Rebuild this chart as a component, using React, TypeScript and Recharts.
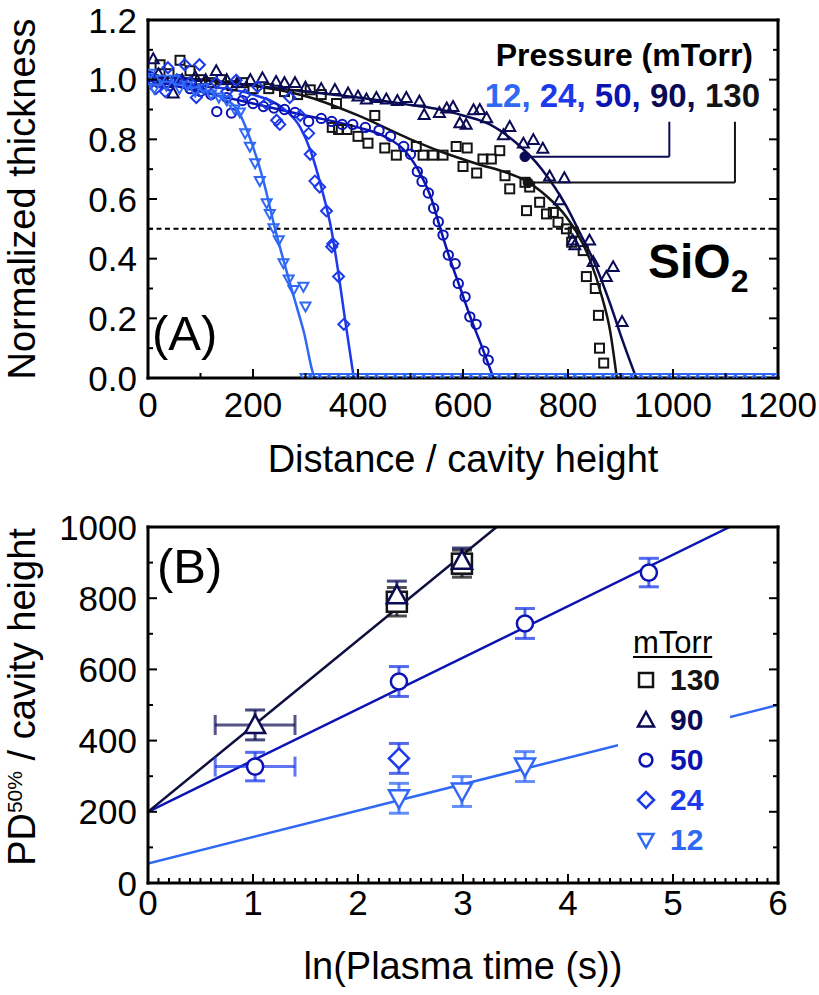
import React from 'react';
import {
  ComposedChart,
  Scatter,
  Line,
  XAxis,
  YAxis,
  ReferenceLine,
  ReferenceDot,
  ErrorBar,
  Legend,
  Customized,
} from 'recharts';

const FONT = '"Liberation Sans", Arial, Helvetica, sans-serif';

// series colours, by pressure
const C130 = '#141414';
const C90 = '#0b0b55';
const C50 = '#0b14b2';
const C24 = '#1c3aea';
const C12 = '#3068f6';

type Pair = [number, number];

// ---------- (A) thickness profiles: [distance / cavity height, normalized thickness]
const pts130: Pair[] = [
  [10, 1.0], [23, 1.05], [40, 1.02], [61, 1.065], [80, 1.03], [100, 1.0], [120, 0.99], [140, 1.0],
  [160, 0.98], [180, 0.99], [200, 0.97], [230, 0.97], [260, 0.96], [285, 0.95], [309, 0.966], [330, 0.95],
  [351, 0.84], [359, 0.92], [363, 0.833], [379, 0.833], [400, 0.81], [419, 0.787], [432, 0.88], [451, 0.771],
  [473, 0.747], [511, 0.776], [524, 0.747], [543, 0.747], [562, 0.747], [587, 0.776], [600, 0.709], [608, 0.771],
  [626, 0.687], [638, 0.734], [654, 0.734], [670, 0.762], [680, 0.678], [689, 0.634], [718, 0.656], [721, 0.561],
  [727, 0.64], [746, 0.589], [759, 0.55], [772, 0.555], [781, 0.522], [797, 0.5], [807, 0.455], [810, 0.489],
  [829, 0.427], [835, 0.34], [852, 0.3], [858, 0.21], [860, 0.1], [868, 0.05],
];
const pts90: Pair[] = [
  [10, 1.07], [20, 1.02], [35, 0.99], [48, 0.955], [65, 1.0], [90, 1.01], [110, 1.0], [130, 1.03],
  [150, 1.0], [170, 0.99], [195, 1.0], [218, 1.006], [244, 0.994], [260, 0.99], [280, 0.99], [300, 0.975],
  [330, 0.97], [356, 0.967], [381, 0.955], [400, 0.945], [416, 0.935], [435, 0.94], [454, 0.935], [475, 0.93],
  [492, 0.94], [517, 0.928], [526, 0.883], [555, 0.89], [569, 0.905], [581, 0.91], [594, 0.855], [606, 0.85],
  [620, 0.899], [632, 0.9], [645, 0.872], [677, 0.815], [689, 0.843], [715, 0.787], [734, 0.799], [752, 0.77],
  [765, 0.677], [784, 0.597], [793, 0.671], [809, 0.462], [813, 0.446], [841, 0.462], [848, 0.39], [873, 0.34],
  [886, 0.373], [903, 0.189],
];
const pts50: Pair[] = [
  [5, 1.01], [20, 0.99], [40, 0.98], [60, 1.0], [80, 0.97], [100, 0.96], [120, 0.95], [131, 0.893],
  [150, 0.94], [159, 0.888], [180, 0.93], [200, 0.92], [220, 0.91], [240, 0.905], [260, 0.9], [280, 0.89],
  [306, 0.86], [330, 0.87], [350, 0.86], [370, 0.85], [390, 0.85], [414, 0.84], [440, 0.83], [462, 0.81],
  [487, 0.776], [500, 0.75], [513, 0.692], [522, 0.659], [534, 0.62], [544, 0.569], [553, 0.524], [562, 0.479],
  [572, 0.412], [585, 0.383], [591, 0.317], [604, 0.272], [613, 0.205], [625, 0.18], [640, 0.09], [648, 0.06],
];
const pts24: Pair[] = [
  [5, 1.0], [15, 0.97], [33, 0.96], [38, 1.04], [55, 1.0], [70, 1.05], [80, 0.99], [92, 0.94],
  [98, 1.05], [110, 0.97], [130, 0.99], [150, 0.96], [168, 0.998], [185, 0.95], [209, 0.976], [225, 0.92],
  [245, 0.864], [251, 0.85], [270, 0.94], [290, 0.88], [306, 0.82], [309, 0.75], [318, 0.66], [327, 0.64],
  [340, 0.56], [350, 0.44], [352, 0.45], [363, 0.34], [373, 0.18],
];
const pts12: Pair[] = [
  [5, 1.02], [12, 0.97], [25, 1.0], [35, 0.98], [50, 1.0], [60, 0.97], [75, 0.98], [90, 0.96],
  [105, 0.97], [120, 0.95], [135, 0.94], [150, 0.93], [165, 0.9], [175, 0.89], [185, 0.82], [194, 0.775],
  [204, 0.72], [213, 0.66], [226, 0.586], [232, 0.55], [239, 0.502], [249, 0.462], [258, 0.385], [268, 0.33],
  [277, 0.295], [296, 0.306], [300, 0.24],
];
// fully etched positions of the 12 mTorr sample (thickness 0)
const zeroTail12 = [
  300, 318, 336, 354, 372, 390, 408, 426, 444, 462, 480, 498, 516, 534, 552, 570, 588, 606, 624, 642,
  660, 678, 696, 714, 732, 750, 768, 786, 804, 822, 840, 858, 876, 894, 912, 930, 948, 966, 984, 1002,
  1020, 1038, 1056, 1074, 1092, 1110, 1128, 1146, 1164, 1182, 1200,
];

// fitted profiles
const fit130: Pair[] = [
  [0, 1.01], [100, 1.0], [200, 0.98], [309, 0.94], [400, 0.88], [500, 0.8], [556, 0.76], [632, 0.715],
  [680, 0.69], [715, 0.665], [759, 0.61], [797, 0.54], [816, 0.49], [841, 0.4], [865, 0.27], [880, 0.16], [893, 0],
];
const fit90: Pair[] = [
  [0, 1.01], [100, 1.0], [200, 0.98], [300, 0.96], [400, 0.94], [500, 0.915], [556, 0.9], [600, 0.88],
  [651, 0.85], [700, 0.79], [750, 0.7], [797, 0.575], [823, 0.485], [848, 0.396], [880, 0.25], [905, 0.12], [930, 0],
];
const fit50: Pair[] = [
  [0, 1.0], [100, 0.96], [200, 0.92], [300, 0.88], [400, 0.84], [450, 0.81], [490, 0.76], [520, 0.68],
  [540, 0.6], [557, 0.5], [575, 0.4], [595, 0.3], [615, 0.2], [637, 0.1], [658, 0],
];
const fit24: Pair[] = [
  [0, 1.0], [100, 0.98], [200, 0.95], [260, 0.9], [290, 0.84], [310, 0.76], [330, 0.64], [349, 0.5],
  [362, 0.36], [375, 0.2], [392, 0],
];
const fit12: Pair[] = [
  [0, 1.0], [50, 0.99], [100, 0.97], [140, 0.94], [170, 0.9], [195, 0.8], [220, 0.66], [242, 0.5],
  [270, 0.32], [296, 0.16], [320, 0], [1200, 0],
];

// ---------- (B) PD50% vs ln(plasma time)
const lnT130 = [2.37, 2.99];
const pd130 = [790, 897];
const err130 = [40, 38];
const lnT90 = [1.02, 2.37, 2.99];
const pd90 = [444, 808, 905];
const err90 = [42, 40, 36];
const lnT50 = [1.02, 2.39, 3.59, 4.77];
const pd50 = [327, 566, 729, 872];
const err50 = [40, 42, 42, 40];
const lnT24 = [2.39];
const pd24 = [350];
const err24 = [42];
const lnT12 = [2.39, 2.99, 3.59];
const pd12 = [238, 257, 327];
const err12 = [42, 42, 42];
const lnTSpread = 0.38; // time spread of the shortest run (90 and 50 mTorr)

const lineB90: Pair[] = [[0, 200], [3.32, 1000]];
const lineB50: Pair[] = [[0, 200], [5.54, 1000]];
const lineB12: Pair[] = [[0, 55], [6, 500]];

const pressures = ['130', '90', '50', '24', '12'];

// ---------- axes
const xMajorA = [0, 200, 400, 600, 800, 1000, 1200];
const yMajorA = [0, 0.2, 0.4, 0.6, 0.8, 1.0, 1.2];
const xMajorB = [0, 1, 2, 3, 4, 5, 6];
const yMajorB = [0, 200, 400, 600, 800, 1000];

const steps = (lo: number, hi: number, step: number) =>
  Array.from({ length: Math.round((hi - lo) / step) + 1 }, (_, i) => +(lo + i * step).toFixed(6));

const ticksAx = steps(0, 1200, 100);
const ticksAy = steps(0, 1.2, 0.1);
const ticksBx = steps(0, 6, 0.1);
const ticksBy = steps(0, 1000, 100);

const toXY = (pts: Pair[]) => pts.map(([x, y]) => ({ x, y }));
const withErr = (xs: number[], ys: number[], es: number[]) => xs.map((x, i) => ({ x, y: ys[i], ey: es[i] }));

type Side = 'bottom' | 'top' | 'left' | 'right';

const edgeTick = (side: Side, gap: number, majors: number[], fmt?: (v: number) => string) => (p: any) => {
  const { x, y, payload } = p;
  const v = Number(payload.value);
  const major = majors.some((m) => Math.abs(m - v) < 1e-6);
  const len = major ? 9 : 5;
  let x1 = x, x2 = x, y1 = y, y2 = y;
  if (side === 'bottom') { y1 = y - gap; y2 = y1 - len; }
  if (side === 'top') { y1 = y + gap; y2 = y1 + len; }
  if (side === 'left') { x1 = x + gap; x2 = x1 + len; }
  if (side === 'right') { x1 = x - gap; x2 = x1 - len; }
  return (
    <g>
      <line x1={x1} y1={y1} x2={x2} y2={y2} stroke="#000" strokeWidth={2} />
      {major && fmt && side === 'bottom' && (
        <text x={x} y={y + 25} textAnchor="middle" fontFamily={FONT} fontSize={35} fill="#000">{fmt(v)}</text>
      )}
      {major && fmt && side === 'left' && (
        <text x={x} y={y + 12.5} textAnchor="end" fontFamily={FONT} fontSize={35} fill="#000">{fmt(v)}</text>
      )}
    </g>
  );
};

const frame = { stroke: '#000', strokeWidth: 3, strokeLinecap: 'square' as const };

const xTitle = (text: string, drop: number) => (p: any) => {
  const vb = p.viewBox;
  if (!vb) return null;
  return (
    <text x={vb.x + vb.width / 2} y={vb.y + drop} textAnchor="middle" fontFamily={FONT} fontSize={38} fill="#000">
      {text}
    </text>
  );
};

const yTitle = (content: React.ReactNode, shift: number) => (p: any) => {
  const vb = p.viewBox;
  if (!vb) return null;
  const x = vb.x + vb.width - 113;
  const y = vb.y + vb.height / 2 + shift;
  return (
    <text transform={`rotate(-90 ${x} ${y})`} x={x} y={y} textAnchor="middle" fontFamily={FONT} fontSize={38} fill="#000">
      {content}
    </text>
  );
};

// ---------- markers
type Kind = 'square' | 'up' | 'circle' | 'diamond' | 'down';

const Marker = ({ kind, cx, cy, size, color, sw, fill }: {
  kind: Kind; cx: number; cy: number; size: number; color: string; sw: number; fill: string;
}) => {
  const h = size / 2;
  const st = { stroke: color, strokeWidth: sw, fill };
  if (kind === 'square') return <rect x={cx - h} y={cy - h} width={size} height={size} {...st} />;
  if (kind === 'circle') return <circle cx={cx} cy={cy} r={h * 0.85} {...st} />;
  if (kind === 'diamond') return <polygon points={`${cx},${cy - h} ${cx + h},${cy} ${cx},${cy + h} ${cx - h},${cy}`} {...st} />;
  if (kind === 'up') return <polygon points={`${cx},${cy - h} ${cx + h},${cy + h * 0.8} ${cx - h},${cy + h * 0.8}`} {...st} />;
  return <polygon points={`${cx},${cy + h} ${cx + h},${cy - h * 0.8} ${cx - h},${cy - h * 0.8}`} {...st} />;
};

const shapeOf = (kind: Kind, size: number, color: string, sw: number, fill = 'none') => (p: any) =>
  p.cx == null || p.cy == null ? <g /> : <Marker kind={kind} cx={p.cx} cy={p.cy} size={size} color={color} sw={sw} fill={fill} />;

const noShape = () => <g />;

// ---------- annotations
const AnnotA = () => (
  <g fontFamily={FONT}>
    <text x={753} y={66} textAnchor="end" fontSize={32} fontWeight={700} fill="#000">Pressure (mTorr)</text>
    <text x={760} y={107} textAnchor="end" fontSize={33} fontWeight={700}>
      <tspan fill={C12}>{pressures[4]}, </tspan>
      <tspan fill={C24}>{pressures[3]}, </tspan>
      <tspan fill={C50}>{pressures[2]}, </tspan>
      <tspan fill={C90}>{pressures[1]}, </tspan>
      <tspan fill={C130}>{pressures[0]}</tspan>
    </text>
    <text x={648} y={278} fontSize={48} fontWeight={700} fill="#000">
      SiO<tspan fontSize={32} dy={14}>2</tspan>
    </text>
    <text x={152} y={350} fontSize={49} fill="#000">(A)</text>
  </g>
);

const AnnotB = () => (
  <text x={157} y={88} fontFamily={FONT} fontSize={49} fill="#000">(B)</text>
);

const keyRows: { label: string; kind: Kind; color: string; size: number }[] = [
  { label: pressures[0], kind: 'square', color: C130, size: 14 },
  { label: pressures[1], kind: 'up', color: C90, size: 16 },
  { label: pressures[2], kind: 'circle', color: C50, size: 15 },
  { label: pressures[3], kind: 'diamond', color: C24, size: 16 },
  { label: pressures[4], kind: 'down', color: C12, size: 15 },
];

const PressureKey = () => (
  <div style={{ background: '#fff', padding: '0 0 6px 15px', width: 97, fontFamily: FONT, color: '#000' }}>
    <div style={{ fontSize: 31, lineHeight: '34px', textDecoration: 'underline', textUnderlineOffset: 3, textDecorationThickness: 2 }}>
      mTorr
    </div>
    {keyRows.map((r) => (
      <div key={r.label} style={{ display: 'flex', alignItems: 'center', height: 40 }}>
        <svg width={26} height={26}>
          <Marker kind={r.kind} cx={13} cy={13} size={r.size} color={r.color} sw={2.5} fill="none" />
        </svg>
        <span style={{ marginLeft: 11, fontSize: 30, fontWeight: 700, color: r.color }}>{r.label}</span>
      </div>
    ))}
  </div>
);

// axis box sizes (margins below are reduced by these amounts)
const AX_B = 30;
const AX_T = 10;
const AX_L = 60;
const AX_R = 10;

// ---------- panels
const PanelA = () => (
  <ComposedChart width={819} height={490} margin={{ top: 20 - AX_T, right: 41 - AX_R, bottom: 112 - AX_B, left: 148 - AX_L }}>
    <XAxis
      type="number" dataKey="x" domain={[0, 1200]} allowDataOverflow ticks={ticksAx} interval={0}
      height={AX_B} tickSize={0} tickMargin={14} tickLine={false} axisLine={frame}
      tick={edgeTick('bottom', 14, xMajorA, (v) => String(v))}
      label={xTitle('Distance / cavity height', 94)}
    />
    <XAxis
      xAxisId="top" orientation="top" type="number" domain={[0, 1200]} allowDataOverflow ticks={ticksAx}
      interval={0} height={AX_T} tickSize={0} tickMargin={4} tickLine={false} axisLine={frame}
      tick={edgeTick('top', 4, xMajorA)}
    />
    <YAxis
      type="number" dataKey="y" domain={[0, 1.2]} allowDataOverflow ticks={ticksAy} interval={0}
      width={AX_L} tickSize={0} tickMargin={11} tickLine={false} axisLine={frame}
      tick={edgeTick('left', 11, yMajorA, (v) => v.toFixed(1))}
      label={yTitle('Normalized thickness', 0)}
    />
    <YAxis
      yAxisId="right" orientation="right" type="number" domain={[0, 1.2]} allowDataOverflow ticks={ticksAy}
      interval={0} width={AX_R} tickSize={0} tickMargin={4} tickLine={false} axisLine={frame}
      tick={edgeTick('right', 4, yMajorA)}
    />
    <ReferenceLine y={0.5} stroke="#000" strokeWidth={2} strokeDasharray="5 3.5" />

    <Scatter data={toXY(pts130)} dataKey="y" shape={shapeOf('square', 9, C130, 2)} isAnimationActive={false} />
    <Scatter data={toXY(pts90)} dataKey="y" shape={shapeOf('up', 11, C90, 2)} isAnimationActive={false} />
    <Scatter data={toXY(pts50)} dataKey="y" shape={shapeOf('circle', 11, C50, 2)} isAnimationActive={false} />
    <Scatter data={toXY(pts24)} dataKey="y" shape={shapeOf('diamond', 11, C24, 2)} isAnimationActive={false} />
    <Scatter data={toXY(pts12)} dataKey="y" shape={shapeOf('down', 10, C12, 2)} isAnimationActive={false} />
    <Scatter data={zeroTail12.map((x) => ({ x, y: 0 }))} dataKey="y" shape={shapeOf('down', 10, C12, 2)} isAnimationActive={false} />

    <Line data={toXY(fit130)} dataKey="y" type="monotone" stroke={C130} strokeWidth={2.5} dot={false} isAnimationActive={false} />
    <Line data={toXY(fit90)} dataKey="y" type="monotone" stroke={C90} strokeWidth={2.5} dot={false} isAnimationActive={false} />
    <Line data={toXY(fit50)} dataKey="y" type="monotone" stroke={C50} strokeWidth={2.5} dot={false} isAnimationActive={false} />
    <Line data={toXY(fit24)} dataKey="y" type="monotone" stroke={C24} strokeWidth={2.5} dot={false} isAnimationActive={false} />
    <Line data={toXY(fit12)} dataKey="y" type="monotone" stroke={C12} strokeWidth={2.5} dot={false} isAnimationActive={false} />

    <ReferenceLine segment={[{ x: 993, y: 0.859 }, { x: 993, y: 0.742 }]} stroke={C90} strokeWidth={2} />
    <ReferenceLine segment={[{ x: 993, y: 0.742 }, { x: 718, y: 0.742 }]} stroke={C90} strokeWidth={2} />
    <ReferenceDot x={718} y={0.742} r={5} fill={C90} stroke={C90} />
    <ReferenceLine segment={[{ x: 1118, y: 0.859 }, { x: 1118, y: 0.655 }]} stroke={C130} strokeWidth={2} />
    <ReferenceLine segment={[{ x: 1118, y: 0.655 }, { x: 724, y: 0.655 }]} stroke={C130} strokeWidth={2} />
    <ReferenceDot x={724} y={0.655} r={5} fill={C130} stroke={C130} />

    <Customized component={AnnotA} />
  </ComposedChart>
);

const PanelB = () => (
  <ComposedChart width={819} height={500} margin={{ top: 32 - AX_T, right: 41 - AX_R, bottom: 112 - AX_B, left: 148 - AX_L }}>
    <XAxis
      type="number" dataKey="x" domain={[0, 6]} allowDataOverflow ticks={ticksBx} interval={0}
      height={AX_B} tickSize={0} tickMargin={7} tickLine={false} axisLine={frame}
      tick={edgeTick('bottom', 7, xMajorB, (v) => String(v))}
      label={xTitle('ln(Plasma time (s))', 96)}
    />
    <XAxis
      xAxisId="top" orientation="top" type="number" domain={[0, 6]} allowDataOverflow ticks={ticksBx}
      interval={0} height={AX_T} tickSize={0} tickMargin={4} tickLine={false} axisLine={frame}
      tick={edgeTick('top', 4, xMajorB)}
    />
    <YAxis
      type="number" dataKey="y" domain={[0, 1000]} allowDataOverflow ticks={ticksBy} interval={0}
      width={AX_L} tickSize={0} tickMargin={11} tickLine={false} axisLine={frame}
      tick={edgeTick('left', 11, yMajorB, (v) => String(v))}
      label={yTitle(
        <>
          <tspan>PD</tspan>
          <tspan fontSize={21} dy={-13}>50%</tspan>
          <tspan dy={13}>{' / cavity height'}</tspan>
        </>,
        -8,
      )}
    />
    <YAxis
      yAxisId="right" orientation="right" type="number" domain={[0, 1000]} allowDataOverflow ticks={ticksBy}
      interval={0} width={AX_R} tickSize={0} tickMargin={4} tickLine={false} axisLine={frame}
      tick={edgeTick('right', 4, yMajorB)}
    />

    <Line data={toXY(lineB12)} dataKey="y" type="linear" stroke={C12} strokeWidth={2.5} dot={false} isAnimationActive={false} />
    <Line data={toXY(lineB50)} dataKey="y" type="linear" stroke={C50} strokeWidth={2.5} dot={false} isAnimationActive={false} />
    <Line data={toXY(lineB90)} dataKey="y" type="linear" stroke="#0f0f3f" strokeWidth={2.5} dot={false} isAnimationActive={false} />

    <Scatter data={[{ x: lnT90[0], y: pd90[0], ex: lnTSpread }]} dataKey="y" shape={noShape} isAnimationActive={false}>
      <ErrorBar dataKey="ex" direction="x" width={10} stroke={C90} strokeOpacity={0.7} strokeWidth={3} />
    </Scatter>
    <Scatter data={[{ x: lnT50[0], y: pd50[0], ex: lnTSpread }]} dataKey="y" shape={noShape} isAnimationActive={false}>
      <ErrorBar dataKey="ex" direction="x" width={10} stroke={C24} strokeOpacity={0.7} strokeWidth={3} />
    </Scatter>

    <Scatter data={withErr(lnT130, pd130, err130)} dataKey="y" shape={shapeOf('square', 20, C130, 2.5, '#fff')} isAnimationActive={false}>
      <ErrorBar dataKey="ey" direction="y" width={10} stroke={C130} strokeOpacity={0.75} strokeWidth={3} />
    </Scatter>
    <Scatter data={withErr(lnT90, pd90, err90)} dataKey="y" shape={shapeOf('up', 20, C90, 2.5, '#fff')} isAnimationActive={false}>
      <ErrorBar dataKey="ey" direction="y" width={10} stroke={C90} strokeOpacity={0.75} strokeWidth={3} />
    </Scatter>
    <Scatter data={withErr(lnT50, pd50, err50)} dataKey="y" shape={shapeOf('circle', 19, C50, 2.5, '#fff')} isAnimationActive={false}>
      <ErrorBar dataKey="ey" direction="y" width={10} stroke={C24} strokeOpacity={0.75} strokeWidth={3} />
    </Scatter>
    <Scatter data={withErr(lnT24, pd24, err24)} dataKey="y" shape={shapeOf('diamond', 20, C24, 2.5, '#fff')} isAnimationActive={false}>
      <ErrorBar dataKey="ey" direction="y" width={10} stroke={C24} strokeOpacity={0.75} strokeWidth={3} />
    </Scatter>
    <Scatter data={withErr(lnT12, pd12, err12)} dataKey="y" shape={shapeOf('down', 20, C12, 2.5, '#fff')} isAnimationActive={false}>
      <ErrorBar dataKey="ey" direction="y" width={10} stroke={C12} strokeOpacity={0.75} strokeWidth={3} />
    </Scatter>

    <Legend
      content={PressureKey}
      layout="vertical"
      align="center"
      verticalAlign="middle"
      wrapperStyle={{ left: 618, top: 131, width: 112 }}
    />
    <Customized component={AnnotB} />
  </ComposedChart>
);

export default function App() {
  return (
    <div style={{ position: 'relative', width: 819, height: 995, background: '#fff', fontFamily: FONT }}>
      <style>{'body{margin:0}'}</style>
      <div style={{ position: 'absolute', left: 0, top: 0 }}>
        <PanelA />
      </div>
      <div style={{ position: 'absolute', left: 0, top: 495 }}>
        <PanelB />
      </div>
    </div>
  );
}
